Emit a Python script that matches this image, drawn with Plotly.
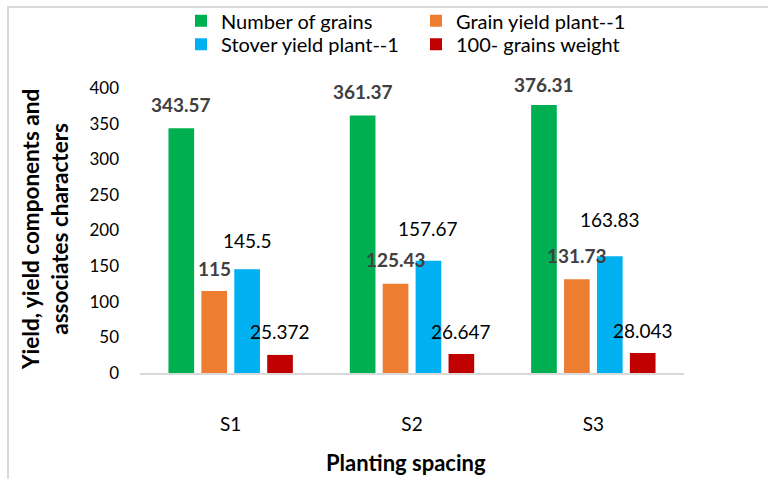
import plotly.graph_objects as go

categories = ["S1", "S2", "S3"]
series_names = ["Number of grains", "Grain yield plant--1", "Stover yield plant--1", "100- grains weight"]
number_of_grains = [343.57, 361.37, 376.31]
grain_yield = [115, 125.43, 131.73]
stover_yield = [145.5, 157.67, 163.83]
grain_weight_100 = [25.372, 26.647, 28.043]
label_texts = [
    ["343.57", "361.37", "376.31"],
    ["115", "125.43", "131.73"],
    ["145.5", "157.67", "163.83"],
    ["25.372", "26.647", "28.043"],
]
y_ticks = [0, 50, 100, 150, 200, 250, 300, 350, 400]

# styles / positions
colors = ["#00B050", "#ED7D31", "#00B0F0", "#C00000"]
label_bold = [True, True, False, False]
label_shift = [[24, 24, 20], [23, 24, 24], [29, 32, 37], [23, 23, 23]]
FONT = "Lato"
W, H = 768, 479
ML, MR, MT, MB = 140, 84, 88, 106
PW, PH = W - ML - MR, H - MT - MB
bargap = 0.274
pitch = (1 - bargap) / 4

def px_x(px):
    return (px - ML) / PW

def px_y(py):
    return (H - MB - py) / PH

values = [number_of_grains, grain_yield, stover_yield, grain_weight_100]
fig = go.Figure()
for j, (name, vals) in enumerate(zip(series_names, values)):
    fig.add_trace(go.Bar(
        x=list(range(len(categories))), y=vals, name=name,
        marker=dict(color=colors[j], line=dict(width=0)),
        legend="legend" if j < 2 else "legend2",
        hoverinfo="skip",
    ))
    for i, v in enumerate(vals):
        txt = label_texts[j][i]
        if label_bold[j]:
            txt = "<b>" + txt + "</b>"
        fig.add_annotation(
            x=i + (j - 1.5) * pitch, y=v, xref="x", yref="y",
            text=txt, showarrow=False, xanchor="center", yanchor="middle",
            yshift=label_shift[j][i],
            font=dict(family=FONT, size=19, color="#404040" if label_bold[j] else "#000000"),
        )

# axis titles
fig.add_annotation(
    x=px_x(45), y=px_y(230), xref="paper", yref="paper",
    text="<b>Yield, yield components and<br>associates characters</b>",
    textangle=-90, showarrow=False, xanchor="center", yanchor="middle",
    font=dict(family=FONT, size=22.5, color="#000000"),
)
fig.add_annotation(
    x=px_x(405.5), y=px_y(462.8), xref="paper", yref="paper",
    text="<b>Planting spacing</b>", showarrow=False, xanchor="center", yanchor="middle",
    font=dict(family=FONT, size=22, color="#000000"),
)

# chart border (top & left visible)
fig.add_shape(type="rect", xref="paper", yref="paper",
              x0=px_x(8), x1=px_x(900), y0=px_y(600), y1=px_y(7),
              line=dict(color="#D9D9D9", width=2), layer="below")

legend_common = dict(orientation="h", xanchor="left", yanchor="middle",
                     entrywidth=190, font=dict(family=FONT, size=20, color="#000000"),
                     bgcolor="rgba(0,0,0,0)", itemclick=False)
fig.update_layout(
    width=W, height=H,
    margin=dict(l=ML, r=MR, t=MT, b=MB, pad=0, autoexpand=False),
    paper_bgcolor="white", plot_bgcolor="white",
    barmode="group", bargap=bargap, bargroupgap=0.22,
    font=dict(family=FONT, color="#000000"),
    legend=dict(x=px_x(181), y=px_y(20.7), **legend_common),
    legend2=dict(x=px_x(181), y=px_y(44.3), **legend_common),
    xaxis=dict(
        tickmode="array", tickvals=list(range(len(categories))), ticktext=categories,
        range=[-0.5, len(categories) - 0.5],
        showline=True, linecolor="#D9D9D9", linewidth=2,
        showgrid=False, zeroline=False, ticks="", automargin=False,
        tickfont=dict(family=FONT, size=19, color="#000000"),
        ticklabelstandoff=33,
    ),
    yaxis=dict(
        range=[0, 400], tickmode="array", tickvals=y_ticks,
        showgrid=False, zeroline=False, showline=False, ticks="", automargin=False,
        tickfont=dict(family=FONT, size=17, color="#000000"),
        ticklabelstandoff=20,
    ),
)

fig.write_html("out.html")
